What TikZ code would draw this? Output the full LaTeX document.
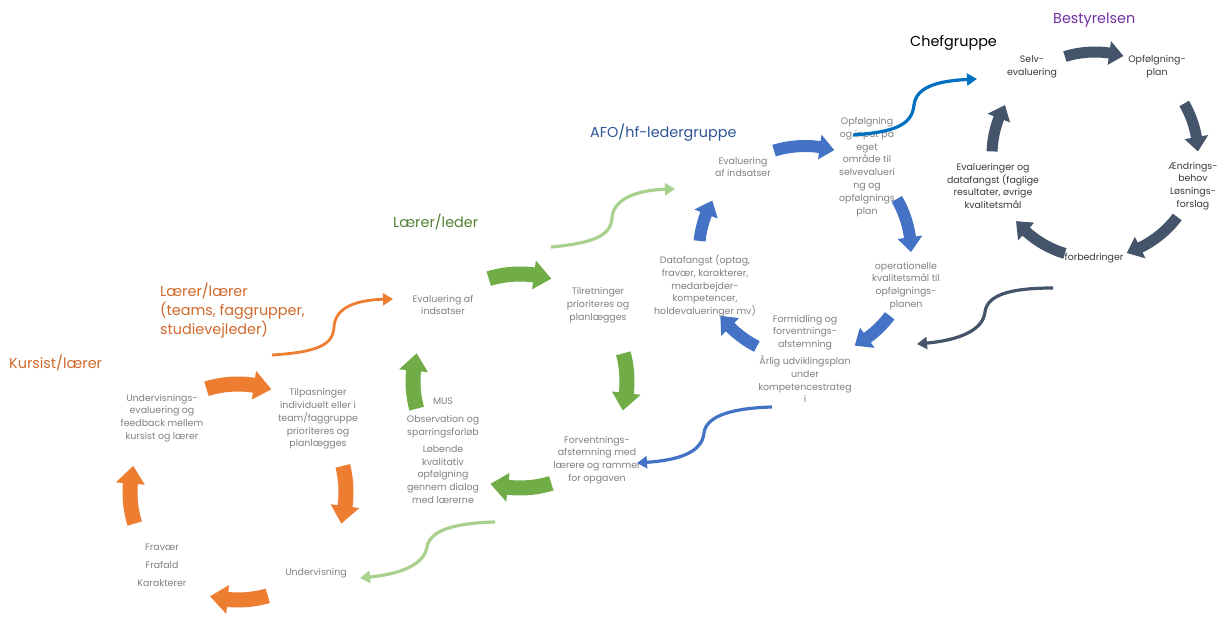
\documentclass[tikz,border=0pt]{standalone}
\usepackage{fontspec}
\setmainfont{Poppins}
\usetikzlibrary{arrows.meta}
\definecolor{corange}{HTML}{ED7D31}
\definecolor{cgreen}{HTML}{70AD47}
\definecolor{clgreen}{HTML}{A9D18E}
\definecolor{cblue}{HTML}{4472C4}
\definecolor{cdblue}{HTML}{0070C0}
\definecolor{cslate}{HTML}{44546A}
\definecolor{hdorange}{HTML}{D0692B}
\definecolor{hdgreen}{HTML}{548235}
\definecolor{hdblue}{HTML}{2F5597}
\definecolor{hdpurple}{HTML}{7030A0}
\definecolor{cgray}{HTML}{808080}
\definecolor{cdark}{HTML}{3A3A3A}
\tikzset{
  txt/.style={align=center, text=cgray, font=\fontsize{9.4}{12.8}\selectfont, inner sep=0pt},
  dtxt/.style={txt, text=cdark},
  hdr/.style={anchor=west, align=left, inner sep=0pt, font=\fontsize{14.4}{19}\selectfont},
  wave/.style={line width=3.2pt, -{Triangle[length=10pt,width=12pt]}},
}
% center x, center y, radius, tail angle, tip angle, shaft half width, head half width, head length (deg), colour
\newcommand\cycarrow[9]{%
  \begin{scope}[shift={(#1,#2)}]
    \pgfmathsetmacro\cycA{-(#4)}
    \pgfmathsetmacro\cycB{-(#5)}
    \pgfmathsetmacro\cycH{-(#5)-(#8)}
    \pgfmathsetmacro\cycRO{#3+#6}
    \pgfmathsetmacro\cycRI{#3-#6}
    \pgfmathsetmacro\cycHO{#3+#7}
    \pgfmathsetmacro\cycHI{#3-#7}
    \fill[#9] (\cycA:\cycRO) arc[start angle=\cycA, end angle=\cycH, radius=\cycRO]
      -- (\cycH:\cycHO) -- (\cycB:#3) -- (\cycH:\cycHI) -- (\cycH:\cycRI)
      arc[start angle=\cycH, end angle=\cycA, radius=\cycRI] -- cycle;
  \end{scope}}
\begin{document}
\begin{tikzpicture}[x=1pt,y=-1pt]
\useasboundingbox[fill=white] (0,0) rectangle (1224,621);

% ---------- cycle arrows ----------
% orange
\cycarrow{238}{492}{108}{107}{72}{7.5}{14.5}{9.5}{corange}
\cycarrow{238}{492}{108}{14}{-17}{7.5}{14.5}{9.5}{corange}
\cycarrow{238}{492}{108}{-74}{-105}{7.5}{14.5}{9.5}{corange}
\cycarrow{238}{492}{108}{197}{166}{7.5}{14.5}{9.5}{corange}
% green
\cycarrow{520}{381}{107}{107}{73}{7.5}{14.5}{9.5}{cgreen}
\cycarrow{520}{381}{107}{15}{-16}{7.5}{14.5}{9.5}{cgreen}
\cycarrow{520}{381}{107}{-73}{-106}{7.5}{14.5}{9.5}{cgreen}
\cycarrow{520}{381}{107}{195}{165}{7.5}{14.5}{9.5}{cgreen}
% blue
\cycarrow{805}{252}{106}{107}{74}{6}{12.5}{8}{cblue}
\cycarrow{805}{252}{106}{30}{0}{6}{12.5}{8}{cblue}
\cycarrow{805}{252}{106}{-37}{-62}{6}{12.5}{8}{cblue}
\cycarrow{805}{252}{106}{-117}{-143}{6}{12.5}{8}{cblue}
\cycarrow{805}{252}{106}{174}{151}{6}{12.5}{8}{cblue}
% slate
\cycarrow{1095}{155}{103}{107}{74}{5.5}{12}{8}{cslate}
\cycarrow{1095}{155}{103}{30}{2}{5.5}{12}{8}{cslate}
\cycarrow{1095}{155}{103}{-37}{-72}{5.5}{12}{8}{cslate}
\cycarrow{1095}{155}{103}{-107}{-140}{5.5}{12}{8}{cslate}
\cycarrow{1095}{155}{103}{178}{151}{5.5}{12}{8}{cslate}

% ---------- headers ----------
\node[hdr, text=hdorange] (hkursist) at (9,363) {Kursist/lærer};
\node[hdr, text=hdorange] (hlaerer) at (160,311) {Lærer/lærer\\(teams, faggrupper,\\studievejleder)};
\node[hdr, text=hdgreen] (hleder) at (393,222) {Lærer/leder};
\node[hdr, text=hdblue] (hafo) at (590,133) {AFO/hf-ledergruppe};
\node[hdr, text=black] (hchef) at (910,43) {Chefgruppe};
\node[hdr, text=hdpurple] (hbest) at (1053,20) {Bestyrelsen};

% ---------- texts ----------
\node[txt] (und) at (162,418) {Undervisnings-\\evaluering og\\feedback mellem\\kursist og lærer};
\node[txt] (tilp) at (318,419) {Tilpasninger\\individuelt eller i\\team/faggruppe\\prioriteres og\\planlægges};
\node[txt] (frav) at (162,565) {Fravær\\[5pt]Frafald\\[5pt]Karakterer};
\node[txt] (undv) at (316,573) {Undervisning};
\node[txt] (eval1) at (443,305) {Evaluering af\\indsatser};
\node[txt] (tilr) at (598,305) {Tilretninger\\prioriteres og\\planlægges};
\node[txt] (mus) at (443,451) {MUS\\[5pt]Observation og\\sparringsforløb\\[4pt]Løbende\\kvalitativ\\opfølgning\\gennem dialog\\med lærerne};
\node[txt] (forv) at (597,460) {Forventnings-\\afstemning med\\lærere og rammer\\for opgaven};
\node[txt] (data) at (705,286) {Datafangst (optag,\\fravær, karakterer,\\medarbejder-\\kompetencer,\\holdevalueringer mv)};
\node[txt] (eval2) at (743,167) {Evaluering\\af indsatser};
\node[txt] (opf) at (867,167) {Opfølgning\\og input på\\eget\\område til\\selvevalueri\\ng og\\opfølgnings\\plan};
\node[txt] (oper) at (906,286) {operationelle\\kvalitetsmål til\\opfølgnings-\\planen};
\node[txt] (form) at (805,359) {Formidling og\\forventnings-\\afstemning\\[4pt]Årlig udviklingsplan\\under\\kompetencestrateg\\i};
\node[dtxt] (selv) at (1032,67) {Selv-\\evaluering};
\node[dtxt] (opfplan) at (1157,67) {Opfølgning-\\plan};
\node[dtxt] (aend) at (1193,186) {Ændrings-\\behov\\Løsnings-\\forslag};
\node[dtxt] (evalr) at (993,186) {Evalueringer og\\datafangst (faglige\\resultater, øvrige\\kvalitetsmål};
\node[dtxt] (forb) at (1094,258) {forbedringer};

% ---------- wavy connectors ----------
\coordinate (w1s) at (272,355); \coordinate (w1m) at (334,327); \coordinate (w1e) at (393,299);
\draw[wave, corange, line width=2.8pt] (w1s) .. controls (318,352) and (333,345) .. (w1m) .. controls (335,308) and (355,300) .. (w1e);
\coordinate (w2s) at (551,247); \coordinate (w2m) at (612,218); \coordinate (w2e) at (675,189);
\draw[wave, clgreen] (w2s) .. controls (595,243) and (611,235) .. (w2m) .. controls (613,200) and (635,190) .. (w2e);
\coordinate (w3s) at (853,135); \coordinate (w3m) at (914,105); \coordinate (w3e) at (977,79);
\draw[wave, cdblue] (w3s) .. controls (895,132) and (912,125) .. (w3m) .. controls (916,88) and (935,81) .. (w3e);
\coordinate (w4s) at (1053,288); \coordinate (w4m) at (985,312); \coordinate (w4e) at (917,344);
\draw[wave, cslate] (w4s) .. controls (1010,288) and (987,295) .. (w4m) .. controls (983,330) and (960,340) .. (w4e);
\coordinate (w5s) at (772,407); \coordinate (w5m) at (704,433); \coordinate (w5e) at (637,463);
\draw[wave, cblue] (w5s) .. controls (735,408) and (706,415) .. (w5m) .. controls (702,452) and (680,460) .. (w5e);
\coordinate (w6s) at (495,522); \coordinate (w6m) at (427,547); \coordinate (w6e) at (360,578);
\draw[wave, clgreen] (w6s) .. controls (455,523) and (430,530) .. (w6m) .. controls (424,565) and (400,574) .. (w6e);
\end{tikzpicture}
\end{document}
